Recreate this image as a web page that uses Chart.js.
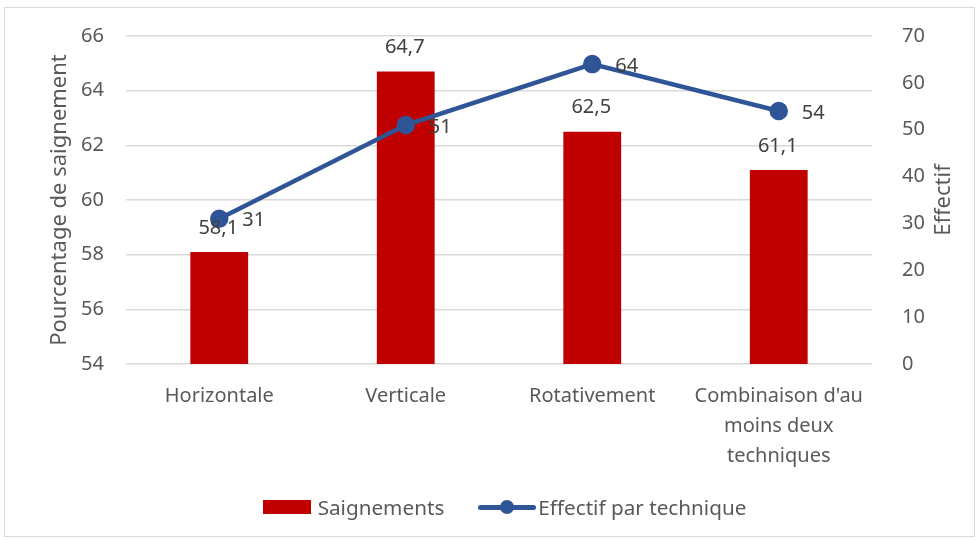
<!DOCTYPE html>
<html>
<head>
<meta charset="utf-8">
<script src="https://cdn.jsdelivr.net/npm/chart.js@4"></script>
<style>
  body { margin: 0; background: #fff; }
  #frame { position: absolute; left: 4px; top: 7px; width: 971px; height: 530px; border: 1px solid #d9d9d9; box-sizing: border-box; }
  #wrap { position: absolute; left: 0; top: 0; width: 979px; height: 541px; }
  #legend { position: absolute; top: 493px; left: 15px; width: 979px; display: flex; justify-content: center; font-family: "Noto Sans", sans-serif; font-size: 20.7px; line-height: 28px; color: #595959; }
  .item { display: flex; align-items: center; margin: 0 17px; }
  .box { width: 48px; height: 14px; background: #c00000; margin-right: 7px; }
  .ln { position: relative; width: 58px; height: 5px; background: #2f5597; border-radius: 3px; margin-right: 2px; }
  .ln::after { content: ""; position: absolute; left: 22px; top: -5px; width: 14px; height: 14px; border-radius: 50%; background: #2f5597; }
</style>
</head>
<body>
<div id="frame"></div>
<div id="wrap"><canvas id="chart" width="979" height="541"></canvas></div>
<div id="legend">
  <div class="item"><span class="box"></span>Saignements</div>
  <div class="item"><span class="ln"></span>Effectif par technique</div>
</div>
<script>
const categories = ['Horizontale', 'Verticale', 'Rotativement', ["Combinaison d'au", 'moins deux', 'techniques']];
const saignements = [58.1, 64.7, 62.5, 61.1];
const effectifs = [31, 51, 64, 54];
const leftTicks = [54, 56, 58, 60, 62, 64, 66];
const rightTicks = [0, 10, 20, 30, 40, 50, 60, 70];

const font = '"Noto Sans", sans-serif';
const textColor = '#595959';

// data labels + right axis title (reads bottom to top like the left one)
const valueLabels = {
  id: 'valueLabels',
  afterDatasetsDraw(chart) {
    const ctx = chart.ctx;
    ctx.save();
    ctx.font = '20px ' + font;
    ctx.fillStyle = '#404040';
    ctx.textBaseline = 'middle';
    chart.getDatasetMeta(0).data.forEach((bar, i) => {
      ctx.textAlign = 'center';
      ctx.fillText(String(saignements[i]).replace('.', ','), bar.x - 1, bar.y - 24);
    });
    chart.getDatasetMeta(1).data.forEach((pt, i) => {
      ctx.textAlign = 'left';
      ctx.fillText(String(effectifs[i]), pt.x + 23, pt.y + 2);
    });
    ctx.restore();
  },
  afterDraw(chart) {
    const ctx = chart.ctx;
    const a = chart.chartArea;
    ctx.save();
    ctx.font = '22px ' + font;
    ctx.fillStyle = textColor;
    ctx.textAlign = 'center';
    ctx.textBaseline = 'middle';
    ctx.translate(944, (a.top + a.bottom) / 2);
    ctx.rotate(-Math.PI / 2);
    ctx.fillText('Effectif', 0, 0);
    ctx.restore();
  }
};

new Chart(document.getElementById('chart'), {
  data: {
    labels: categories,
    datasets: [
      {
        type: 'bar',
        label: 'Saignements',
        data: saignements,
        backgroundColor: '#c00000',
        yAxisID: 'y',
        barPercentage: 0.62,
        categoryPercentage: 0.5,
        order: 2
      },
      {
        type: 'line',
        label: 'Effectif par technique',
        data: effectifs,
        borderColor: '#2f5597',
        backgroundColor: '#2f5597',
        borderWidth: 4.5,
        pointRadius: 7,
        pointHoverRadius: 7,
        tension: 0,
        yAxisID: 'y1',
        order: 1
      }
    ]
  },
  options: {
    responsive: false,
    animation: false,
    layout: { padding: { left: 43, right: 10, top: 36, bottom: 60 } },
    plugins: { legend: { display: false }, tooltip: { enabled: false } },
    scales: {
      x: {
        grid: { display: false },
        border: { display: false },
        ticks: { color: textColor, font: { family: font, size: 20, lineHeight: 1.5 }, padding: 9, maxRotation: 0 },
        afterFit(s) { s.height = 117; }
      },
      y: {
        position: 'left',
        min: 54, max: 66,
        afterBuildTicks(s) { s.ticks = leftTicks.map(v => ({ value: v })); },
        grid: { color: '#d9d9d9', lineWidth: 1.5, drawTicks: false },
        border: { display: false },
        ticks: { color: textColor, font: { family: font, size: 20 }, padding: 22 },
        title: { display: true, text: 'Pourcentage de saignement', color: textColor, font: { family: font, size: 22 }, padding: { top: 4, bottom: 0 } },
        afterFit(s) { s.width = 83; }
      },
      y1: {
        position: 'right',
        min: 0, max: 70,
        afterBuildTicks(s) { s.ticks = rightTicks.map(v => ({ value: v })); },
        grid: { display: false },
        border: { display: false },
        ticks: { color: textColor, font: { family: font, size: 20 }, padding: 22 },
        afterFit(s) { s.width = 97; }
      }
    }
  },
  plugins: [valueLabels]
});
</script>
</body>
</html>
